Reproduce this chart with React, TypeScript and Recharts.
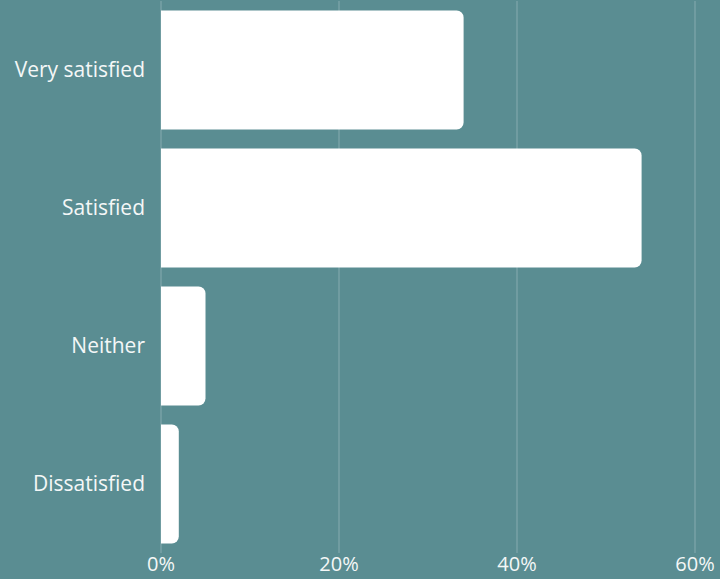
import { BarChart, Bar, XAxis, YAxis, CartesianGrid } from "recharts"

const categories = ["Very satisfied", "Satisfied", "Neither", "Dissatisfied"]
const shares = [34, 54, 5, 2]
const xTicks = [0, 20, 40, 60]

const data = categories.map((name, i) => ({ name, share: shares[i] }))

const BG = "#5a8d92"
const TEXT = "#f4f7f7"
const FONT = "'Open Sans', 'Noto Sans', sans-serif"

export default function App() {
  return (
    <div style={{ width: 720, height: 579, background: BG }}>
      <style>{`body { margin: 0; }`}</style>
      <BarChart
        width={720}
        height={579}
        data={data}
        layout="vertical"
        margin={{ top: 1, right: 25, left: 0, bottom: 0 }}
        barCategoryGap={9.5}
      >
        <CartesianGrid horizontal={false} stroke="rgba(255,255,255,0.28)" />
        <XAxis
          type="number"
          domain={[0, 60]}
          ticks={xTicks}
          tickFormatter={(v) => `${v}%`}
          axisLine={false}
          tickLine={false}
          tickSize={0}
          tickMargin={4}
          height={26}
          tick={{ fill: TEXT, fontSize: 20, fontFamily: FONT }}
        />
        <YAxis
          type="category"
          dataKey="name"
          width={161}
          axisLine={false}
          tickLine={false}
          tickSize={0}
          tickMargin={16}
          tick={{ fill: TEXT, fontSize: 21, fontFamily: FONT }}
        />
        <Bar dataKey="share" fill="#ffffff" radius={[0, 7, 7, 0]} isAnimationActive={false} />
      </BarChart>
    </div>
  )
}
